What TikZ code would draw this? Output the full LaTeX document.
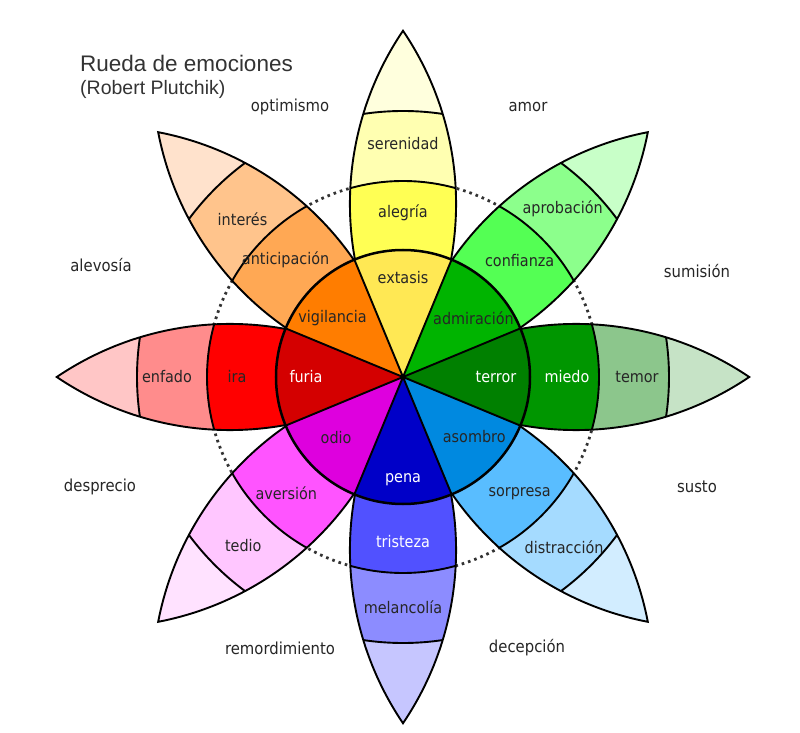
\documentclass[tikz,border=0pt]{standalone}
\usepackage{fontspec}
\setmainfont{DejaVu Sans}[FakeStretch=0.9]
\newfontfamily\titlefont{Liberation Sans}
\usepackage{tikz}
\usetikzlibrary{positioning}
\usepackage{xcolor}

% petal colours, from the tip inwards
\definecolor{tipyel}{HTML}{FFFFDD}\definecolor{serenidad}{HTML}{FFFFB1}\definecolor{alegria}{HTML}{FFFF54}\definecolor{extasis}{HTML}{FFE854}
\definecolor{tipgrn}{HTML}{C8FFC8}\definecolor{aprobacion}{HTML}{8CFF8C}\definecolor{confianza}{HTML}{54FF54}\definecolor{admiracion}{HTML}{00B400}
\definecolor{tipdkg}{HTML}{C6E3C6}\definecolor{temor}{HTML}{8CC68C}\definecolor{miedo}{HTML}{009600}\definecolor{terror}{HTML}{008000}
\definecolor{tipblu}{HTML}{D2EDFF}\definecolor{distraccion}{HTML}{A5DBFF}\definecolor{sorpresa}{HTML}{59BDFF}\definecolor{asombro}{HTML}{0089E0}
\definecolor{tipvio}{HTML}{C6C6FF}\definecolor{melancolia}{HTML}{8C8CFF}\definecolor{tristeza}{HTML}{5151FF}\definecolor{pena}{HTML}{0000C8}
\definecolor{tipmag}{HTML}{FFE2FF}\definecolor{tedio}{HTML}{FFC6FF}\definecolor{aversion}{HTML}{FF54FF}\definecolor{odio}{HTML}{DE00DE}
\definecolor{tipred}{HTML}{FFC6C6}\definecolor{enfado}{HTML}{FF8C8C}\definecolor{ira}{HTML}{FF0000}\definecolor{furia}{HTML}{D40000}
\definecolor{tipora}{HTML}{FFE2CC}\definecolor{interes}{HTML}{FFC48C}\definecolor{anticipacion}{HTML}{FFA854}\definecolor{vigilancia}{HTML}{FF7D00}

% lens shaped petal, centre to tip along the x axis
\newcommand{\petalpath}{(0,0) arc[start angle=124.1,end angle=55.9,radius=308.8] arc[start angle=-55.9,end angle=-124.1,radius=308.8] -- cycle}
\newcommand{\drawpetal}[4]{%
  \begin{scope}[rotate=#1]
    \begin{scope}
      \clip \petalpath;
      \fill[#2] (0,0) circle[radius=360];
      \fill[#3] (0,0) circle[radius=266];
      \fill[#4] (0,0) circle[radius=196];
      \draw[ring] (0,0) circle[radius=266] (0,0) circle[radius=196];
    \end{scope}
    \draw[ring] \petalpath;
  \end{scope}}
\newcommand{\innerwedge}[2]{%
  \begin{scope}[rotate=#1]
    \fill[#2] (0,0) -- (-22.5:127) arc[start angle=-22.5,end angle=22.5,radius=127] -- cycle;
  \end{scope}}

\begin{document}
\begin{tikzpicture}[
  x=1pt,y=1pt,
  ring/.style={draw=black,line width=1.9},
  dots/.style={draw=black!80,line width=2.8,dash pattern=on 2.6pt off 4pt},
  lbl/.style={font=\fontsize{16}{18}\selectfont,text=black!85,inner sep=1pt},
  lblw/.style={lbl,text=white},
  outer/.style={font=\fontsize{16.5}{19}\selectfont,text=black!85},
  title/.style={font=\titlefont\fontsize{22.5}{26}\selectfont,text=black!80,anchor=west,inner sep=0pt}
]
\fill[white] (-403,-356) rectangle (397,377);
\useasboundingbox (-403,-356) rectangle (397,377);

\draw[dots] (0,0) circle[radius=196];

\drawpetal{90}{tipyel}{serenidad}{alegria}
\drawpetal{45}{tipgrn}{aprobacion}{confianza}
\drawpetal{0}{tipdkg}{temor}{miedo}
\drawpetal{-45}{tipblu}{distraccion}{sorpresa}
\drawpetal{-90}{tipvio}{melancolia}{tristeza}
\drawpetal{-135}{tipmag}{tedio}{aversion}
\drawpetal{180}{tipred}{enfado}{ira}
\drawpetal{135}{tipora}{interes}{anticipacion}

\innerwedge{90}{extasis}
\innerwedge{45}{admiracion}
\innerwedge{0}{terror}
\innerwedge{-45}{asombro}
\innerwedge{-90}{pena}
\innerwedge{-135}{odio}
\innerwedge{180}{furia}
\innerwedge{135}{vigilancia}
\draw[ring] (0,0) -- (22.5:127) (0,0) -- (67.5:127) (0,0) -- (112.5:127) (0,0) -- (157.5:127)
  (0,0) -- (202.5:127) (0,0) -- (247.5:127) (0,0) -- (292.5:127) (0,0) -- (337.5:127);
\draw[ring,line width=2.5] (0,0) circle[radius=127];

% inner ring
\node[lbl] (extasis) at (90:99) {extasis};
\node[lbl] (admiracion) at (40:92) {admiración};
\node[lblw] (terror) at (0:93) {terror};
\node[lbl] (asombro) at (-40:93) {asombro};
\node[lblw] (pena) at (-90:103) {pena};
\node[lbl] (odio) at (-138:90) {odio};
\node[lblw] (furia) at (180:97) {furia};
\node[lbl] (vigilancia) at (140:92) {vigilancia};
% middle ring
\node[lbl] (alegria) at (90:164) {alegría};
\node[lbl] (confianza) at (45:165) {confianza};
\node[lblw] (miedo) at (0:164) {miedo};
\node[lbl] (sorpresa) at (-45:165) {sorpresa};
\node[lblw] (tristeza) at (-90:165) {tristeza};
\node[lbl] (aversion) at (-135:165) {aversión};
\node[lbl] (ira) at (180:166) {ira};
\node[lbl] (anticipacion) at (135:166) {anticipación};
% outer ring
\node[lbl] (serenidad) at (90:233) {serenidad};
\node[lbl] (aprobacion) at (46.5:232) {aprobación};
\node[lbl] (temor) at (0:234) {temor};
\node[lbl] (distraccion) at (-46.5:234) {distracción};
\node[lbl] (melancolia) at (-90:230) {melancolía};
\node[lbl] (tedio) at (-133.5:232) {tedio};
\node[lbl] (enfado) at (180:236) {enfado};
\node[lbl] (interes) at (135.5:225) {interés};

% combinations between the petals
\node[outer] (optimismo) at (-113,270) {optimismo};
\node[outer] (amor) at (125,270) {amor};
\node[outer] (sumision) at (294,106) {sumisión};
\node[outer] (susto) at (294,-110) {susto};
\node[outer] (decepcion) at (124,-271) {decepción};
\node[outer] (remordimiento) at (-123,-271) {remordimiento};
\node[outer] (desprecio) at (-303,-110) {desprecio};
\node[outer] (alevosia) at (-302,112) {alevosía};

\node[title] (titulo) at (-323,314) {Rueda de emociones};
\node[title,font=\titlefont\fontsize{19.5}{22}\selectfont,below=9pt of titulo.south west,anchor=north west] (autor) {(Robert Plutchik)};
\end{tikzpicture}
\end{document}
